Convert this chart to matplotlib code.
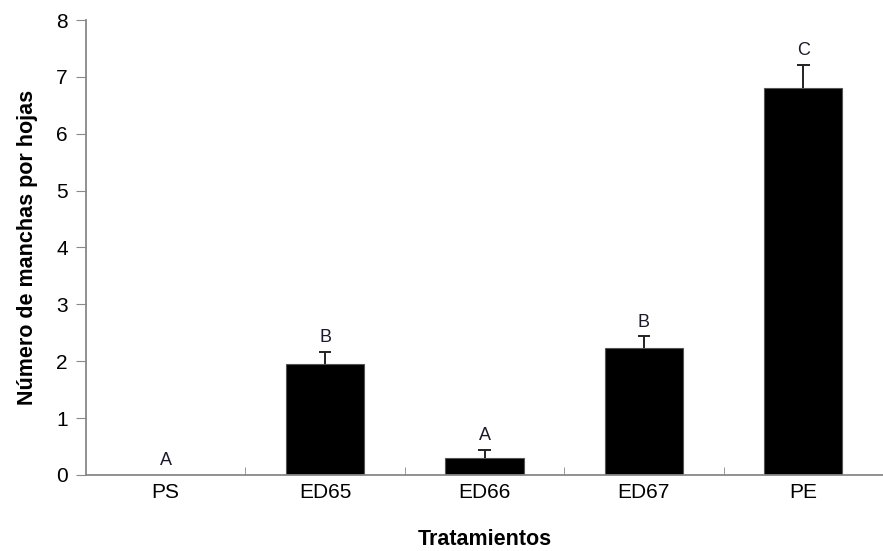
import numpy as np
import matplotlib.pyplot as plt

plt.rcParams['font.family'] = ['Liberation Sans', 'DejaVu Sans']

tratamientos = ['PS', 'ED65', 'ED66', 'ED67', 'PE']
manchas = [0.0, 1.95, 0.29, 2.23, 6.80]
error = [0.0, 0.21, 0.15, 0.21, 0.41]
letras = ['A', 'B', 'A', 'B', 'C']

fig = plt.figure(figsize=(8.83, 5.51), dpi=100)
ax = fig.add_axes([0.0974, 0.138, 0.9026, 0.8257])

x = np.arange(len(tratamientos))
m = np.array(manchas)
e = np.array(error)
ax.bar(x, m, width=0.49, color='black', edgecolor='#555555', linewidth=0.8, zorder=2)

# solo la mitad superior del error, sin dibujar donde es cero
con_error = e > 0
ax.vlines(x[con_error], m[con_error], m[con_error] + e[con_error], color='#222222', lw=1.4, zorder=3)
ax.hlines(m[con_error] + e[con_error], x[con_error] - 0.04, x[con_error] + 0.04,
          color='#222222', lw=1.4, zorder=3)

for xi, mi, ei, l in zip(x, m, e, letras):
    ax.text(xi, mi + ei + 0.1, l, ha='center', va='bottom', fontsize=13, color='#1a1a2e')

ax.set_xlim(-0.5, 4.5)
ax.set_ylim(0, 8)
ax.set_yticks(range(0, 9))

# marcas del eje x entre categorias
ax.set_xticks(x)
ax.set_xticklabels(tratamientos, fontsize=15)
ax.set_xticks(np.arange(0.5, 4.6, 1), minor=True)
ax.tick_params(axis='x', which='major', length=0, pad=6)
ax.tick_params(axis='x', which='minor', direction='in', length=6, color='#888888')
ax.tick_params(axis='y', direction='out', length=7, color='#888888', labelsize=15, pad=6)

for s in ['top', 'right']:
    ax.spines[s].set_visible(False)
for s in ['left', 'bottom']:
    ax.spines[s].set_color('#888888')
    ax.spines[s].set_linewidth(1.3)

ax.set_xlabel('Tratamientos', fontsize=15.5, fontweight='bold', labelpad=19)
ax.set_ylabel('Número de manchas por hojas', fontsize=15.5, fontweight='bold', labelpad=13)

fig.savefig('out.png', dpi=100)
